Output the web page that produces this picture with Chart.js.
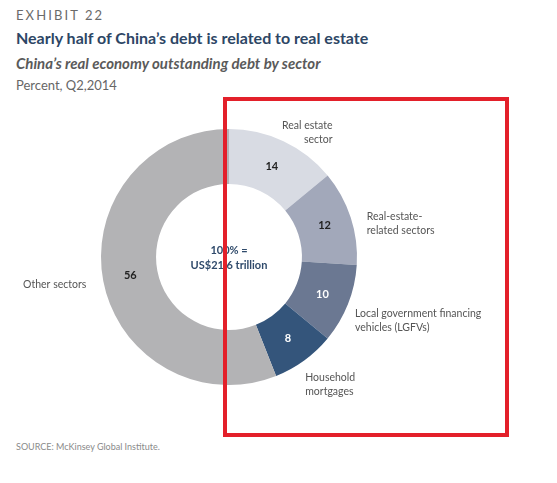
<!DOCTYPE html>
<html><head><meta charset="utf-8">
<script src="https://cdn.jsdelivr.net/npm/chart.js@4"></script>
<style>
html,body{margin:0;padding:0;background:#fff;width:557px;height:483px;overflow:hidden;font-family:Lato,"Open Sans",sans-serif;}
.t{position:absolute;left:16px;white-space:nowrap;}
#ex{top:7px;font-size:13px;letter-spacing:2.1px;color:#6a6a6a;}
#ti{top:28px;font-size:16px;font-weight:bold;color:#2d4665;}
#st{top:54px;font-size:15px;font-weight:bold;font-style:italic;color:#5a5a5a;}
#un{top:77px;font-size:13px;color:#666;}
#src{top:441px;font-size:9px;color:#8a8a8a;}
#wrap{position:absolute;left:0;top:100px;width:557px;height:330px;}
#box{position:absolute;left:223px;top:97px;width:286px;height:340px;border:4px solid #e3202a;box-sizing:border-box;pointer-events:none;}
</style></head>
<body>
<div class="t" id="ex">EXHIBIT 22</div>
<div class="t" id="ti">Nearly half of China’s debt is related to real estate</div>
<div class="t" id="st">China’s real economy outstanding debt by sector</div>
<div class="t" id="un">Percent, Q2,2014</div>
<div id="wrap"><canvas id="c"></canvas></div>
<div class="t" id="src">SOURCE: McKinsey Global Institute.</div>
<div id="box"></div>
<script>
const categories = [["Real estate","sector"],["Real-estate-","related sectors"],["Local government financing","vehicles (LGFVs)"],["Household","mortgages"],["Other sectors"]];
const values = [14, 12, 10, 8, 56];
const centerText = ["100% =", "US$21.6 trillion"];

const colors = ["#d8dbe3","#a2a8ba","#6b7892","#34557b","#b3b3b5"];
const valueColors = ["#222","#222","#fff","#fff","#222"];
// label placement style: [dx, dy, align]
const labelStyle = [[49,-9,"right"],[16,6,"left"],[7,16,"left"],[1,24,"left"],[-17,4,"right"]];

const labelPlugin = {
  id:"labels",
  afterDatasetsDraw(chart){
    const ctx = chart.ctx;
    const meta = chart.getDatasetMeta(0);
    ctx.save();
    meta.data.forEach((arc,i)=>{
      const p = arc.getProps(["x","y","startAngle","endAngle","innerRadius","outerRadius"],true);
      const mid = (p.startAngle+p.endAngle)/2;
      const r = (p.innerRadius+p.outerRadius)/2;
      ctx.font = "bold 11px Lato, sans-serif";
      ctx.fillStyle = valueColors[i];
      ctx.textAlign="center"; ctx.textBaseline="middle";
      ctx.fillText(String(values[i]), p.x+Math.cos(mid)*r, p.y+Math.sin(mid)*r);
      const ax = p.x+Math.cos(mid)*p.outerRadius + labelStyle[i][0];
      const ay = p.y+Math.sin(mid)*p.outerRadius + labelStyle[i][1];
      ctx.font = "10.5px Lato, sans-serif";
      ctx.fillStyle = "#555";
      ctx.textAlign = labelStyle[i][2];
      const lines = categories[i];
      const lh = 14;
      lines.forEach((ln,j)=>{
        ctx.fillText(ln, ax, ay + (j-(lines.length-1)/2)*lh);
      });
    });
    const a0 = meta.data[0];
    ctx.font = "bold 11px Lato, sans-serif";
    ctx.fillStyle = "#2f4a6b";
    ctx.textAlign="center";
    ctx.fillText(centerText[0], a0.x, a0.y-7);
    ctx.fillText(centerText[1], a0.x, a0.y+8);
    ctx.restore();
  }
};

new Chart(document.getElementById("c"),{
  type:"doughnut",
  data:{labels:categories.map(c=>c.join(" ")),datasets:[{data:values,backgroundColor:colors,borderWidth:0}]},
  options:{
    responsive:true,maintainAspectRatio:false,animation:false,
    cutout:"57%",
    layout:{padding:{left:101,right:200,top:29,bottom:45}},
    plugins:{legend:{display:false},tooltip:{enabled:false}},
    events:[]
  },
  plugins:[labelPlugin]
});
</script>
</body></html>
